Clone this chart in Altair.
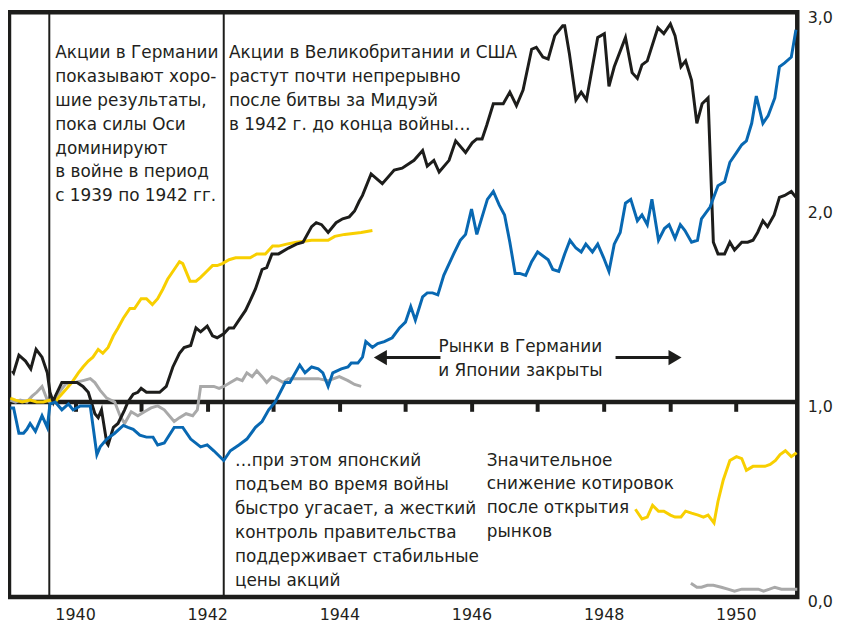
import altair as alt
import pandas as pd

FONT = "DejaVu Sans"
TXT = "#231f20"

# ---------------- data ----------------
black_year = [1939.05, 1939.07, 1939.15, 1939.25, 1939.33, 1939.41, 1939.50, 1939.58, 1939.62, 1939.67,
              1939.70, 1939.80, 1939.88, 1940.03, 1940.12, 1940.20, 1940.30, 1940.35, 1940.40, 1940.48,
              1940.50, 1940.58, 1940.65, 1940.75, 1940.80, 1940.88, 1940.95, 1941.00, 1941.08, 1941.18,
              1941.28, 1941.38, 1941.48, 1941.58, 1941.65, 1941.75, 1941.83, 1941.90, 1942.00, 1942.08,
              1942.15, 1942.25, 1942.33, 1942.40, 1942.48, 1942.58, 1942.65, 1942.73, 1942.83, 1942.90,
              1942.98, 1943.08, 1943.23, 1943.35, 1943.45, 1943.58, 1943.65, 1943.73, 1943.83, 1943.95,
              1944.05, 1944.15, 1944.23, 1944.30, 1944.35, 1944.48, 1944.65, 1944.83, 1944.95, 1945.13,
              1945.26, 1945.33, 1945.43, 1945.51, 1945.66, 1945.76, 1945.91, 1946.01, 1946.08, 1946.16,
              1946.23, 1946.33, 1946.48, 1946.58, 1946.68, 1946.78, 1946.91, 1946.98, 1947.08, 1947.16,
              1947.26, 1947.38, 1947.41, 1947.48, 1947.58, 1947.66, 1947.74, 1947.91, 1948.01, 1948.08,
              1948.16, 1948.33, 1948.43, 1948.51, 1948.58, 1948.66, 1948.82, 1948.91, 1949.01, 1949.08,
              1949.17, 1949.24, 1949.33, 1949.41, 1949.49, 1949.58, 1949.66, 1949.73, 1949.83, 1949.91,
              1949.98, 1950.09, 1950.18, 1950.26, 1950.33, 1950.41, 1950.48, 1950.58, 1950.66, 1950.74,
              1950.84, 1950.91]
black_val = [1.16, 1.15, 1.24, 1.21, 1.17, 1.27, 1.23, 1.15, 1.05, 1.00,
             1.03, 1.10, 1.10, 1.10, 1.08, 1.05, 0.94, 0.92, 0.96, 0.79,
             0.78, 0.87, 0.89, 0.96, 1.00, 1.04, 1.05, 1.07, 1.05, 1.05,
             1.05, 1.08, 1.18, 1.25, 1.28, 1.29, 1.38, 1.36, 1.39, 1.34,
             1.33, 1.35, 1.38, 1.38, 1.42, 1.47, 1.52, 1.58, 1.68, 1.69,
             1.76, 1.76, 1.79, 1.81, 1.82, 1.90, 1.92, 1.91, 1.87, 1.92,
             1.94, 1.95, 1.98, 2.03, 2.06, 2.17, 2.12, 2.19, 2.20, 2.24,
             2.29, 2.21, 2.24, 2.18, 2.24, 2.34, 2.28, 2.33, 2.35, 2.35,
             2.42, 2.53, 2.53, 2.59, 2.52, 2.60, 2.81, 2.82, 2.77, 2.76,
             2.88, 2.93, 2.93, 2.79, 2.55, 2.59, 2.55, 2.87, 2.89, 2.62,
             2.72, 2.87, 2.69, 2.66, 2.73, 2.75, 2.92, 2.89, 2.94, 2.88,
             2.72, 2.75, 2.65, 2.43, 2.53, 2.56, 1.82, 1.76, 1.76, 1.82,
             1.78, 1.82, 1.82, 1.83, 1.87, 1.93, 1.90, 1.96, 2.05, 2.06,
             2.08, 2.05]

blue_year = [1939.02, 1939.07, 1939.15, 1939.22, 1939.27, 1939.32, 1939.40, 1939.50, 1939.58, 1939.62,
             1939.70, 1939.80, 1939.90, 1939.97, 1940.08, 1940.23, 1940.33, 1940.38, 1940.48, 1940.60,
             1940.73, 1940.80, 1940.88, 1940.98, 1941.08, 1941.18, 1941.25, 1941.35, 1941.50, 1941.63,
             1941.75, 1941.90, 1942.00, 1942.10, 1942.25, 1942.35, 1942.48, 1942.60, 1942.73, 1942.83,
             1942.93, 1943.03, 1943.18, 1943.25, 1943.40, 1943.48, 1943.58, 1943.68, 1943.75, 1943.83,
             1943.90, 1944.03, 1944.13, 1944.18, 1944.28, 1944.35, 1944.40, 1944.50, 1944.58, 1944.68,
             1944.80, 1944.91, 1945.00, 1945.08, 1945.15, 1945.26, 1945.33, 1945.41, 1945.49, 1945.58,
             1945.73, 1945.83, 1945.91, 1946.00, 1946.08, 1946.24, 1946.33, 1946.42, 1946.50, 1946.58,
             1946.66, 1946.73, 1946.82, 1946.91, 1947.00, 1947.16, 1947.23, 1947.32, 1947.41, 1947.49,
             1947.58, 1947.66, 1947.73, 1947.83, 1947.91, 1948.00, 1948.08, 1948.16, 1948.25, 1948.33,
             1948.41, 1948.51, 1948.58, 1948.66, 1948.73, 1948.83, 1948.92, 1948.99, 1949.08, 1949.16,
             1949.23, 1949.33, 1949.42, 1949.48, 1949.61, 1949.73, 1949.83, 1949.91, 1950.01, 1950.09,
             1950.16, 1950.24, 1950.31, 1950.41, 1950.49, 1950.59, 1950.66, 1950.74, 1950.84, 1950.91]
blue_val = [0.97, 0.97, 0.84, 0.84, 0.86, 0.89, 0.85, 0.93, 0.87, 0.99,
            1.00, 0.96, 0.99, 0.96, 0.98, 0.98, 0.73, 0.77, 0.81, 0.84,
            0.88, 0.87, 0.86, 0.83, 0.82, 0.82, 0.78, 0.79, 0.87, 0.87,
            0.81, 0.77, 0.78, 0.75, 0.70, 0.75, 0.78, 0.81, 0.87, 0.90,
            0.96, 1.00, 1.10, 1.10, 1.19, 1.15, 1.18, 1.17, 1.15, 1.08,
            1.15, 1.17, 1.18, 1.20, 1.20, 1.23, 1.31, 1.28, 1.30, 1.31,
            1.33, 1.38, 1.41, 1.49, 1.42, 1.54, 1.56, 1.56, 1.55, 1.65,
            1.76, 1.83, 1.86, 1.99, 1.86, 2.04, 2.08, 2.01, 1.96, 1.82,
            1.66, 1.66, 1.65, 1.72, 1.77, 1.73, 1.68, 1.67, 1.76, 1.83,
            1.79, 1.77, 1.81, 1.77, 1.81, 1.74, 1.67, 1.81, 1.87, 2.02,
            2.04, 1.93, 1.96, 1.91, 2.04, 1.83, 1.89, 1.91, 1.84, 1.91,
            1.88, 1.82, 1.83, 1.94, 2.00, 2.11, 2.13, 2.23, 2.28, 2.32,
            2.34, 2.43, 2.57, 2.43, 2.47, 2.56, 2.72, 2.74, 2.77, 2.91]

yellow_year_war = [1939.02, 1939.10, 1939.20, 1939.32, 1939.42, 1939.52, 1939.62, 1939.70, 1939.77, 1939.85,
                   1939.95, 1940.05, 1940.12, 1940.20, 1940.27, 1940.35, 1940.42, 1940.50, 1940.58, 1940.65,
                   1940.73, 1940.83, 1940.90, 1941.00, 1941.08, 1941.17, 1941.25, 1941.33, 1941.40, 1941.50,
                   1941.58, 1941.63, 1941.74, 1941.83, 1941.90, 1941.99, 1942.08, 1942.15, 1942.23, 1942.33,
                   1942.43, 1942.58, 1942.65, 1942.75, 1942.88, 1942.99, 1943.08, 1943.20, 1943.35, 1943.58,
                   1943.83, 1943.93, 1944.08, 1944.33, 1944.50]
yellow_val_war = [1.02, 1.01, 1.00, 1.01, 1.00, 1.00, 1.01, 1.00, 1.03, 1.06,
                  1.10, 1.15, 1.18, 1.21, 1.23, 1.27, 1.25, 1.28, 1.34, 1.38,
                  1.43, 1.48, 1.48, 1.53, 1.53, 1.50, 1.53, 1.58, 1.63, 1.68,
                  1.72, 1.71, 1.62, 1.62, 1.64, 1.67, 1.70, 1.70, 1.71, 1.73,
                  1.74, 1.74, 1.74, 1.76, 1.76, 1.80, 1.80, 1.81, 1.82, 1.83,
                  1.83, 1.85, 1.86, 1.87, 1.88]
yellow_year_post = [1948.48, 1948.58, 1948.66, 1948.74, 1948.83, 1948.91, 1949.01, 1949.08, 1949.17, 1949.24,
                    1949.33, 1949.43, 1949.51, 1949.58, 1949.67, 1949.73, 1949.81, 1949.91, 1950.01, 1950.09,
                    1950.16, 1950.26, 1950.35, 1950.44, 1950.52, 1950.60, 1950.67, 1950.75, 1950.84, 1950.92]
yellow_val_post = [0.45, 0.40, 0.41, 0.47, 0.44, 0.44, 0.42, 0.41, 0.41, 0.44,
                   0.43, 0.42, 0.41, 0.42, 0.38, 0.49, 0.60, 0.70, 0.72, 0.71,
                   0.65, 0.67, 0.67, 0.67, 0.68, 0.70, 0.73, 0.75, 0.72, 0.74]

grey_year_war = [1939.02, 1939.10, 1939.17, 1939.27, 1939.35, 1939.42, 1939.50, 1939.58, 1939.62, 1939.70,
                 1939.76, 1939.85, 1939.92, 1940.00, 1940.12, 1940.23, 1940.30, 1940.38, 1940.48, 1940.60,
                 1940.68, 1940.75, 1940.85, 1940.95, 1941.05, 1941.15, 1941.25, 1941.35, 1941.50, 1941.58,
                 1941.68, 1941.78, 1941.85, 1941.90, 1942.00, 1942.10, 1942.18, 1942.25, 1942.35, 1942.45,
                 1942.53, 1942.60, 1942.68, 1942.75, 1942.83, 1942.90, 1942.98, 1943.05, 1943.15, 1943.23,
                 1943.38, 1943.53, 1943.68, 1943.83, 1944.00, 1944.13, 1944.23, 1944.33]
grey_val_war = [1.01, 1.00, 1.01, 1.00, 1.03, 1.05, 1.08, 1.01, 1.00, 1.01,
                1.05, 1.09, 1.10, 1.10, 1.11, 1.12, 1.10, 1.06, 1.02, 1.00,
                0.93, 0.89, 0.95, 0.93, 0.95, 0.97, 0.98, 0.96, 0.90, 0.92,
                0.94, 0.93, 0.96, 1.08, 1.08, 1.08, 1.07, 1.08, 1.10, 1.12,
                1.11, 1.15, 1.13, 1.16, 1.13, 1.10, 1.13, 1.12, 1.10, 1.12,
                1.12, 1.12, 1.12, 1.11, 1.13, 1.11, 1.09, 1.08]
grey_year_post = [1949.32, 1949.41, 1949.48, 1949.57, 1949.66, 1949.78, 1949.88, 1949.98, 1950.09, 1950.24,
                  1950.34, 1950.42, 1950.51, 1950.59, 1950.69, 1950.79, 1950.93]
grey_val_post = [0.07, 0.05, 0.05, 0.06, 0.06, 0.05, 0.04, 0.03, 0.04, 0.04,
                 0.04, 0.03, 0.04, 0.05, 0.04, 0.04, 0.04]

# vertical markers
marker_years = [1939.61, 1942.25]

# annotations: text, x (year), y (value at top of block), alignment
notes = [
    ("Акции в Германии\nпоказывают хоро-\nшие результаты,\nпока силы Оси\nдоминируют\nв войне в период\nс 1939 по 1942 гг.", 1939.70, 2.830, "left"),
    ("Акции в Великобритании и США\nрастут почти непрерывно\nпосле битвы за Мидуэй\nв 1942 г. до конца войны…", 1942.33, 2.830, "left"),
    ("…при этом японский\nподъем во время войны\nбыстро угасает, а жесткий\nконтроль правительства\nподдерживает стабильные\nцены акций", 1942.42, 0.736, "left"),
    ("Значительное\nснижение котировок\nпосле открытия\nрынков", 1946.23, 0.740, "left"),
    ("Рынки в Германии\nи Японии закрыты", 1946.74, 1.322, "center"),
]
arrow_lines = [(1944.65, 1945.53, 1.228), (1948.18, 1949.05, 1.228)]
arrow_heads = [(1944.62, 1.228, "triangle-left"), (1949.08, 1.228, "triangle-right")]

# ---------------- build tables ----------------
rows = []
def add(series, seg, years, vals):
    for y, v in zip(years, vals):
        rows.append({"series": series, "seg": seg, "year": y, "value": v})

add("black", "b", black_year, black_val)
add("blue", "u", blue_year, blue_val)
add("yellow", "y1", yellow_year_war, yellow_val_war)
add("yellow", "y2", yellow_year_post, yellow_val_post)
add("grey", "g1", grey_year_war, grey_val_war)
add("grey", "g2", grey_year_post, grey_val_post)
df = pd.DataFrame(rows)

colors = {"black": "#1d1d1b", "blue": "#0868b2", "yellow": "#f8cf00", "grey": "#a9a9a9"}

W, H = 794, 589
xscale = alt.Scale(domain=[1939, 1950.93], nice=False, zero=False)
yscale = alt.Scale(domain=[0, 3], nice=False, zero=True)

label_axis = alt.Axis(orient="bottom", values=[1940, 1942, 1944, 1946, 1948, 1950], format="d",
                      ticks=False, domain=False, grid=False, labelPadding=10, labelFontSize=16,
                      labelFont=FONT, labelColor=TXT, title=None)
tick_axis = alt.Axis(orient="bottom", values=list(range(1940, 1951)), labels=False, domain=False,
                     grid=False, ticks=True, tickSize=9, tickWidth=4, tickColor="#1d1d1b",
                     offset=-196, title=None)
y_axis = alt.Axis(orient="right", values=[0, 1, 2, 3], format=".1f",
                  labelExpr="replace(datum.label, '.', ',')", ticks=False, domain=False,
                  grid=False, labelPadding=10, labelOffset=5, labelFontSize=16, labelFont=FONT,
                  labelColor=TXT, title=None)

def Xq(field, axis=None):
    return alt.X(field, scale=xscale, axis=axis)

def Yq(field):
    return alt.Y(field, scale=yscale, axis=y_axis)

def series_layer(name, axis=None):
    return alt.Chart(df[df["series"] == name]).mark_line(
        strokeWidth=3, color=colors[name]
    ).encode(x=Xq("year:Q", axis), y=Yq("value:Q"), detail="seg:N", order="year:Q")

one_line = alt.Chart(pd.DataFrame({"v": [1.0]})).mark_rule(
    strokeWidth=4.5, color="#1d1d1b").encode(y=Yq("v:Q"))

vlines = alt.Chart(pd.DataFrame({"year": marker_years})).mark_rule(
    strokeWidth=2, color="#1d1d1b").encode(x=Xq("year:Q", tick_axis))

ndf = pd.DataFrame(notes, columns=["text", "x", "y", "anchor"])
text_style = dict(baseline="top", font=FONT, fontSize=17, lineHeight=24, lineBreak="\n", color=TXT)
notes_left = alt.Chart(ndf[ndf["anchor"] == "left"]).mark_text(align="left", **text_style).encode(
    x=Xq("x:Q"), y=Yq("y:Q"), text="text:N")
notes_center = alt.Chart(ndf[ndf["anchor"] == "center"]).mark_text(align="center", **text_style).encode(
    x=Xq("x:Q"), y=Yq("y:Q"), text="text:N")

adf = pd.DataFrame(arrow_lines, columns=["x1", "x2", "y"])
arrows = alt.Chart(adf).mark_rule(strokeWidth=3, color="#1d1d1b").encode(
    x=Xq("x1:Q"), x2="x2:Q", y=Yq("y:Q"))
hdf = pd.DataFrame(arrow_heads, columns=["x", "y", "shape"])
heads = alt.Chart(hdf).mark_point(filled=True, size=230, color="#1d1d1b", opacity=1).encode(
    x=Xq("x:Q"), y=Yq("y:Q"), shape=alt.Shape("shape:N", scale=None))

chart = alt.layer(
    vlines,
    one_line,
    series_layer("grey", label_axis),
    series_layer("yellow"),
    series_layer("black"),
    series_layer("blue"),
    arrows, heads,
    notes_left, notes_center,
).resolve_axis(x="independent").properties(
    width=W, height=H, background="white",
    padding={"left": 1, "top": 2, "right": 38, "bottom": 24},
    autosize=alt.AutoSizeParams(type="none"),
).configure_view(stroke="#1d1d1b", strokeWidth=4.5)

chart.save("out.html", embed_options={"renderer": "svg", "actions": False})
